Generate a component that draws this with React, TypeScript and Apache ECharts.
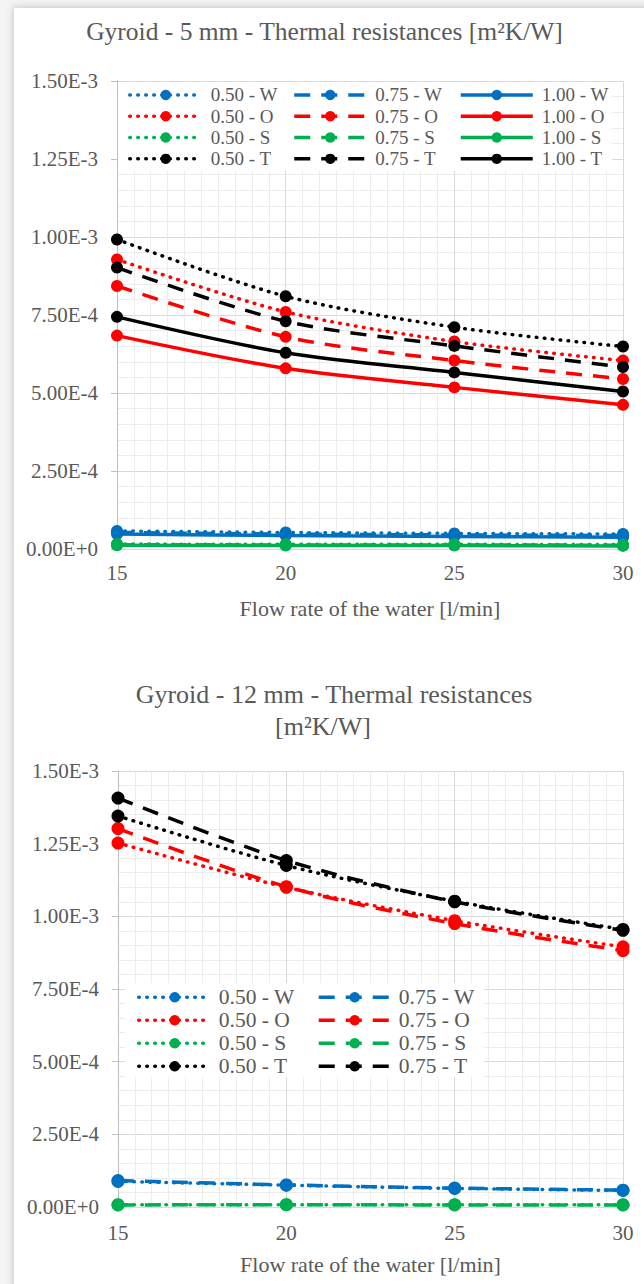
import React, { useEffect, useRef } from "react";
import * as echarts from "echarts";

const FONT = '"Liberation Serif", "Times New Roman", serif';
const TXT = "#595959";

// x values (flow rate, l/min)
const flowRates = [15, 20, 25, 30];

// Gyroid - 5 mm
const g5_W050 = [5.8e-5, 5.3e-5, 5.0e-5, 4.8e-5];
const g5_W075 = [5.3e-5, 4.8e-5, 4.5e-5, 4.3e-5];
const g5_W100 = [4.8e-5, 4.3e-5, 4.0e-5, 3.8e-5];
const g5_O050 = [9.28e-4, 7.6e-4, 6.65e-4, 6.04e-4];
const g5_O075 = [8.43e-4, 6.8e-4, 6.04e-4, 5.45e-4];
const g5_O100 = [6.84e-4, 5.79e-4, 5.18e-4, 4.62e-4];
const g5_S050 = [1.6e-5, 1.5e-5, 1.5e-5, 1.4e-5];
const g5_S075 = [1.4e-5, 1.3e-5, 1.3e-5, 1.2e-5];
const g5_S100 = [1.2e-5, 1.1e-5, 1.1e-5, 1.0e-5];
const g5_T050 = [9.92e-4, 8.1e-4, 7.11e-4, 6.49e-4];
const g5_T075 = [9.02e-4, 7.3e-4, 6.51e-4, 5.83e-4];
const g5_T100 = [7.44e-4, 6.29e-4, 5.66e-4, 5.05e-4];

// Gyroid - 12 mm
const g12_W050 = [8.8e-5, 7.5e-5, 6.4e-5, 5.7e-5];
const g12_W075 = [9.1e-5, 7.6e-5, 6.5e-5, 5.8e-5];
const g12_O050 = [1.252e-3, 1.1e-3, 9.85e-4, 8.95e-4];
const g12_O075 = [1.302e-3, 1.102e-3, 9.75e-4, 8.82e-4];
const g12_S050 = [8e-6, 8e-6, 8e-6, 8e-6];
const g12_S075 = [7e-6, 8e-6, 7e-6, 7e-6];
const g12_T050 = [1.345e-3, 1.175e-3, 1.052e-3, 9.55e-4];
const g12_T075 = [1.407e-3, 1.192e-3, 1.05e-3, 9.52e-4];

const titleTop = "Gyroid - 5 mm - Thermal resistances [m²K/W]";
const titleBottom1 = "Gyroid - 12 mm - Thermal resistances";
const titleBottom2 = "[m²K/W]";
const xName = "Flow rate of the water [l/min]";

const BLUE = "#0070c0";
const RED = "#ff0000";
const GREEN = "#00b050";
const BLACK = "#000000";

type Dash = "dot" | "dash" | "solid";

function lineStyleOf(color: string, dash: Dash) {
  if (dash === "dot") return { color, width: 3.5, type: [0.6, 7.4], cap: "round" };
  if (dash === "dash") return { color, width: 3.5, type: [16, 11], cap: "butt" };
  return { color, width: 3.5, type: "solid", cap: "butt" };
}

function mk(name: string, vals: number[], color: string, dash: Dash, gi: number) {
  return {
    type: "line",
    name,
    xAxisIndex: gi,
    yAxisIndex: gi,
    data: flowRates.map((x, i) => [x, vals[i]]),
    symbol: "circle",
    symbolSize: gi === 0 ? 12 : 13,
    smooth: 0.3,
    lineStyle: lineStyleOf(color, dash),
    itemStyle: { color },
    emphasis: { disabled: true },
  };
}

function xAxisOf(gi: number) {
  return {
    type: "value",
    gridIndex: gi,
    min: 15,
    max: 30,
    interval: 5,
    name: xName,
    nameLocation: "middle",
    nameGap: gi === 0 ? 48 : 46,
    nameTextStyle: { fontFamily: FONT, fontSize: 22, color: TXT },
    axisLine: { show: true, lineStyle: { color: "#d9d9d9", width: 1 } },
    axisTick: { show: false },
    axisLabel: { fontFamily: FONT, fontSize: 21, color: TXT, margin: gi === 0 ? 13 : 15 },
    splitLine: { show: true, lineStyle: { color: "#d9d9d9", width: 1 } },
    minorTick: { show: false, splitNumber: 10 },
    minorSplitLine: { show: true, lineStyle: { color: "#ececec", width: 1 } },
  };
}

function yAxisOf(gi: number) {
  return {
    type: "value",
    gridIndex: gi,
    min: 0,
    max: 0.0015,
    interval: 0.00025,
    axisLine: { show: true, lineStyle: { color: "#bfbfbf", width: 1 } },
    axisTick: { show: true, length: 6, inside: false, lineStyle: { color: "#bfbfbf" } },
    axisLabel: {
      fontFamily: FONT,
      fontSize: 21,
      color: TXT,
      margin: 19,
      formatter: (v: number) => v.toExponential(2).toUpperCase(),
    },
    splitLine: { show: true, lineStyle: { color: "#d9d9d9", width: 1 } },
    minorTick: { show: false, splitNumber: 5 },
    minorSplitLine: { show: true, lineStyle: { color: "#ececec", width: 1 } },
  };
}

function legendOf(names: string[], left: number, top: number, fontSize: number, lh: number, pad: number) {
  return {
    data: names,
    orient: "vertical",
    left,
    top,
    padding: 0,
    itemGap: 0,
    itemWidth: 72,
    itemHeight: 13,
    selectedMode: false,
    lineStyle: { width: 3.5 },
    textStyle: { fontFamily: FONT, fontSize, color: TXT, lineHeight: lh, padding: [0, 0, 0, pad] },
    z: 5,
  };
}

function textEl(text: string, x: number, y: number, fontSize: number) {
  return {
    type: "text",
    x,
    y,
    z: 10,
    style: {
      text,
      fontFamily: FONT,
      fontSize,
      fill: TXT,
      align: "center",
      verticalAlign: "middle",
      textAlign: "center",
      textVerticalAlign: "middle",
    },
  };
}

export default function App() {
  const ref = useRef<HTMLDivElement>(null);

  useEffect(() => {
    if (!ref.current) return;
    const chart = echarts.init(ref.current, null, { renderer: "svg" });
    const option: any = {
      animation: false,
      textStyle: { fontFamily: FONT },
      grid: [
        { left: 117, top: 81, width: 506, height: 468, outerBoundsMode: "none" },
        { left: 118, top: 771, width: 505, height: 436, outerBoundsMode: "none" },
      ],
      xAxis: [xAxisOf(0), xAxisOf(1)],
      yAxis: [yAxisOf(0), yAxisOf(1)],
      legend: [
        legendOf(["0.50 - W", "0.50 - O", "0.50 - S", "0.50 - T"], 128, 84.3, 19, 21.3, 4),
        legendOf(["0.75 - W", "0.75 - O", "0.75 - S", "0.75 - T"], 292.5, 84.3, 19, 21.3, 4),
        legendOf(["1.00 - W", "1.00 - O", "1.00 - S", "1.00 - T"], 459, 84.3, 19, 21.3, 4),
        legendOf(["0.50 - W", "0.50 - O", "0.50 - S", "0.50 - T"], 137, 985.8, 21.5, 23, 3),
        legendOf(["0.75 - W", "0.75 - O", "0.75 - S", "0.75 - T"], 317, 985.8, 21.5, 23, 3),
      ],
      graphic: {
        elements: [
          { type: "rect", z: 1, shape: { x: 118, y: 82, width: 494, height: 89 }, style: { fill: "#ffffff" } },
          { type: "rect", z: 1, shape: { x: 125, y: 983, width: 359, height: 94 }, style: { fill: "#ffffff" } },
          textEl(titleTop, 324.5, 31, 25.5),
          textEl(titleBottom1, 334, 694, 26),
          textEl(titleBottom2, 323, 726, 26),
        ],
      },
      series: [
        mk("0.50 - W", g5_W050, BLUE, "dot", 0),
        mk("0.75 - W", g5_W075, BLUE, "dash", 0),
        mk("1.00 - W", g5_W100, BLUE, "solid", 0),
        mk("0.50 - O", g5_O050, RED, "dot", 0),
        mk("0.75 - O", g5_O075, RED, "dash", 0),
        mk("1.00 - O", g5_O100, RED, "solid", 0),
        mk("0.50 - S", g5_S050, GREEN, "dot", 0),
        mk("0.75 - S", g5_S075, GREEN, "dash", 0),
        mk("1.00 - S", g5_S100, GREEN, "solid", 0),
        mk("0.50 - T", g5_T050, BLACK, "dot", 0),
        mk("0.75 - T", g5_T075, BLACK, "dash", 0),
        mk("1.00 - T", g5_T100, BLACK, "solid", 0),

        mk("0.50 - W", g12_W050, BLUE, "dot", 1),
        mk("0.75 - W", g12_W075, BLUE, "dash", 1),
        mk("0.50 - O", g12_O050, RED, "dot", 1),
        mk("0.75 - O", g12_O075, RED, "dash", 1),
        mk("0.50 - S", g12_S050, GREEN, "dot", 1),
        mk("0.75 - S", g12_S075, GREEN, "dash", 1),
        mk("0.50 - T", g12_T050, BLACK, "dot", 1),
        mk("0.75 - T", g12_T075, BLACK, "dash", 1),
      ],
    };
    chart.setOption(option);
    return () => chart.dispose();
  }, []);

  return (
    <div
      style={{
        position: "fixed",
        left: 0,
        top: 0,
        width: 644,
        height: 1284,
        overflow: "hidden",
        background: "#f4f4f4",
      }}
    >
      <div
        style={{
          position: "absolute",
          left: 14,
          top: 8,
          width: 660,
          height: 1300,
          background: "#ffffff",
          boxShadow: "0 0 7px 1px rgba(0,0,0,0.18)",
        }}
      />
      <div ref={ref} style={{ position: "absolute", left: 0, top: 0, width: 644, height: 1284 }} />
    </div>
  );
}
